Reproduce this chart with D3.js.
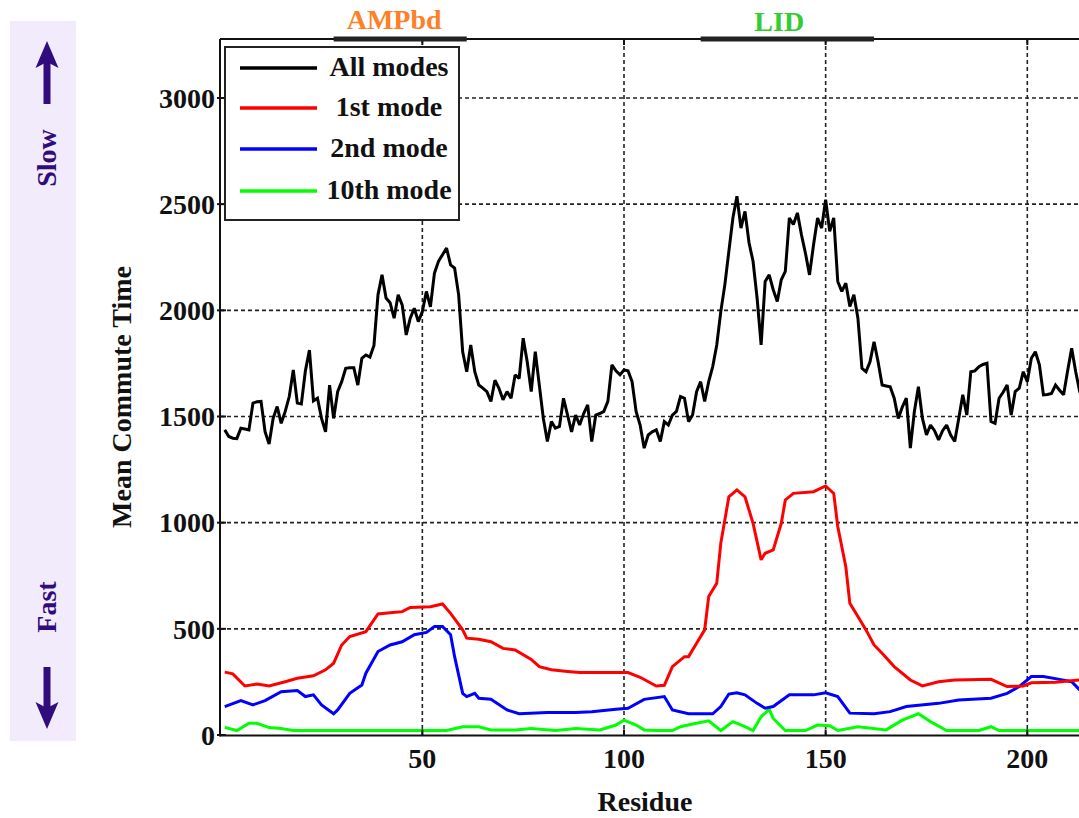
<!DOCTYPE html>
<html>
<head>
<meta charset="utf-8">
<script src="https://cdn.jsdelivr.net/npm/d3@7"></script>
<style>
  html, body { margin: 0; padding: 0; background: #fff; overflow: hidden; }
  text { font-family: "Liberation Serif", "Times New Roman", serif; font-weight: bold; }
</style>
</head>
<body>
<svg id="chart" width="1079" height="818"></svg>
<script>
// Mean commute time per residue (residues 1..214)
const residues = d3.range(1, 215);
const allModes = [
  1437,1406,1398,1396,1445,1441,1437,1563,1569,1571,
  1428,1370,1491,1547,1468,1524,1594,1719,1563,1559,
  1715,1813,1574,1586,1491,1428,1648,1491,1617,1664,
  1727,1730,1730,1648,1774,1790,1780,1835,2073,2167,
  2058,2036,1963,2073,2026,1884,1963,2010,1947,1994,
  2089,2016,2175,2231,2262,2293,2214,2199,2073,1805,
  1711,1837,1711,1648,1634,1617,1571,1671,1633,1579,
  1617,1586,1696,1679,1869,1758,1617,1805,1648,1491,
  1382,1476,1445,1453,1586,1507,1428,1507,1460,1514,
  1555,1382,1507,1514,1524,1571,1743,1715,1696,1719,
  1715,1664,1524,1460,1351,1413,1428,1437,1382,1476,
  1460,1507,1524,1594,1586,1476,1507,1617,1664,1571,
  1664,1735,1837,1994,2120,2278,2435,2537,2387,2466,
  2318,2231,2058,1837,2136,2167,2097,2042,2144,2183,
  2435,2404,2459,2356,2268,2167,2309,2435,2387,2521,
  2372,2435,2136,2089,2128,2018,2073,1963,1727,1711,
  1758,1852,1758,1648,1644,1640,1586,1491,1544,1586,
  1351,1524,1640,1491,1413,1460,1433,1390,1433,1460,
  1413,1382,1491,1602,1507,1711,1715,1735,1745,1751,
  1476,1468,1586,1614,1648,1507,1617,1633,1711,1664,
  1774,1805,1743,1602,1604,1609,1648,1624,1602,1715,
  1821,1711,1617,1602
];

// 1st mode
const mode1Res = [1,3,6,9,12,16,19,23,26,28,30,32,36,39,42,45,47,52,55,57,60,61,64,67,70,73,77,79,82,86,89,94,101,104,108,110,112,115,116,118,120,121,123,124,126,128,130,132,134,135,137,139,140,142,147,150,152,153,155,156,158,160,162,164,167,171,174,178,182,191,195,199,201,207,213];
const mode1Val = [296,288,231,240,231,251,267,279,307,338,424,464,487,570,576,581,601,604,617,573,495,456,451,439,408,400,356,322,307,299,294,294,294,272,231,234,322,369,369,432,495,652,715,903,1122,1154,1122,997,825,856,872,997,1107,1138,1146,1173,1138,982,793,620,558,495,424,385,322,259,231,251,259,262,228,231,246,249,259];

// 2nd mode
const mode2Res = [1,5,8,11,15,19,21,23,25,28,29,32,35,36,39,42,45,48,51,53,55,57,58,60,61,63,64,67,71,74,81,88,92,98,101,105,110,112,116,122,124,126,128,130,133,135,137,141,147,150,153,156,162,166,170,178,183,191,195,198,201,204,208,211,213];
const mode2Val = [134,162,142,162,204,209,181,189,142,100,118,196,235,291,393,424,439,472,483,511,511,472,369,196,181,196,173,168,118,100,106,106,110,121,126,168,181,118,100,100,134,193,199,189,149,126,134,189,189,199,181,103,100,110,134,149,165,173,196,228,275,275,262,251,212];

// 10th mode
const mode10Res = [1,4,7,9,12,15,18,56,60,64,67,73,77,83,88,94,98,100,103,105,108,112,114,117,121,124,127,130,132,134,136,137,140,145,148,151,153,158,165,169,173,176,180,188,191,193,214];
const mode10Val = [36,21,55,55,35,31,21,21,39,39,24,24,31,21,31,24,47,70,47,24,21,21,39,52,67,21,63,39,21,86,121,78,21,21,47,44,21,39,24,70,100,63,21,21,39,21,21];

const seriesNames = ["All modes", "1st mode", "2nd mode", "10th mode"];
const seriesColors = ["#000000", "#ff0000", "#0000ff", "#00ff00"];

const xTicks = [50, 100, 150, 200];
const yTicks = [0, 500, 1000, 1500, 2000, 2500, 3000];

// Protein domains marked above the plot
const domainNames = ["AMPbd", "LID"];
const domainStart = [28, 119];
const domainEnd = [61, 162];
const domainLabelAt = [43, 138.5];
const domainColors = ["#ff7f27", "#33cc33"];

const svg = d3.select("#chart");
const W = 1079, H = 818;

const plotLeft = 220, plotTop = 39, plotBottom = 735.5;

const x = d3.scaleLinear().domain([0, 200]).range([220.7, 1027.3]);
const y = d3.scaleLinear().domain([0, 3000]).range([735, 98]);

// Side panel: slow / fast indicator
const sideColor = "#310c7c";
svg.append("rect").attr("x", 10).attr("y", 21).attr("width", 66).attr("height", 720).attr("fill", "#f1ebfc");
svg.append("rect").attr("x", 43.5).attr("y", 60).attr("width", 7).attr("height", 44).attr("fill", sideColor);
svg.append("path").attr("d", "M47,41 L58.5,68 L47,62 L35.5,68 Z").attr("fill", sideColor);
svg.append("rect").attr("x", 43.5).attr("y", 667).attr("width", 7).attr("height", 45).attr("fill", sideColor);
svg.append("path").attr("d", "M47,729 L58.5,702 L47,708 L35.5,702 Z").attr("fill", sideColor);
svg.append("text").attr("transform", "translate(56,158) rotate(-90)")
  .attr("text-anchor", "middle").attr("font-size", 28).attr("fill", sideColor).text("Slow");
svg.append("text").attr("transform", "translate(56,607) rotate(-90)")
  .attr("text-anchor", "middle").attr("font-size", 28).attr("fill", sideColor).text("Fast");

// Grid
const grid = svg.append("g").attr("stroke", "#222").attr("stroke-width", 1.6).attr("stroke-dasharray", "4,3");
grid.selectAll("line.gx").data(xTicks).join("line")
  .attr("x1", d => x(d)).attr("x2", d => x(d)).attr("y1", plotTop).attr("y2", plotBottom);
grid.selectAll("line.gy").data(yTicks.filter(d => d > 0)).join("line")
  .attr("x1", plotLeft).attr("x2", W).attr("y1", d => y(d)).attr("y2", d => y(d));

// Series lines
const line = d3.line().x(d => x(d[0])).y(d => y(d[1]));
const seriesData = [
  d3.zip(residues, allModes),
  d3.zip(mode1Res, mode1Val),
  d3.zip(mode2Res, mode2Val),
  d3.zip(mode10Res, mode10Val)
];
// draw the colored modes first, then the overall curve
[3, 2, 1, 0].forEach(i => {
  svg.append("path").datum(seriesData[i])
    .attr("fill", "none").attr("stroke", seriesColors[i])
    .attr("stroke-width", 3).attr("stroke-linejoin", "miter").attr("stroke-miterlimit", 2)
    .attr("d", line);
});

// Axes frame
const axisG = svg.append("g").attr("stroke", "#111").attr("stroke-width", 2);
axisG.append("line").attr("x1", plotLeft).attr("x2", plotLeft).attr("y1", plotTop).attr("y2", plotBottom + 1);
axisG.append("line").attr("x1", plotLeft).attr("x2", W).attr("y1", plotBottom).attr("y2", plotBottom);
axisG.append("line").attr("x1", plotLeft).attr("x2", W).attr("y1", plotTop).attr("y2", plotTop);
// tick marks
axisG.selectAll("line.tt").data(xTicks).join("line")
  .attr("x1", d => x(d)).attr("x2", d => x(d)).attr("y1", plotTop).attr("y2", plotTop + 6);
axisG.selectAll("line.tb").data(xTicks).join("line")
  .attr("x1", d => x(d)).attr("x2", d => x(d)).attr("y1", plotBottom).attr("y2", plotBottom - 6);
axisG.selectAll("line.tl").data(yTicks).join("line")
  .attr("x1", plotLeft - 3).attr("x2", plotLeft + 6).attr("y1", d => y(d)).attr("y2", d => y(d));

// Tick labels
svg.append("g").selectAll("text").data(yTicks).join("text")
  .attr("x", 215).attr("y", d => y(d)).attr("dy", "0.35em")
  .attr("text-anchor", "end").attr("font-size", 28).attr("fill", "#111")
  .text(d => d);
svg.append("g").selectAll("text").data(xTicks).join("text")
  .attr("x", d => x(d)).attr("y", 768)
  .attr("text-anchor", "middle").attr("font-size", 28).attr("fill", "#111")
  .text(d => d);

// Axis titles
svg.append("text").attr("x", 645).attr("y", 811).attr("text-anchor", "middle")
  .attr("font-size", 28).attr("fill", "#111").text("Residue");
svg.append("text").attr("transform", "translate(131,397) rotate(-90)")
  .attr("text-anchor", "middle").attr("font-size", 28).attr("fill", "#111").text("Mean Commute Time");

// Domain bars and labels
domainNames.forEach((name, i) => {
  svg.append("line")
    .attr("x1", x(domainStart[i])).attr("x2", x(domainEnd[i]))
    .attr("y1", plotTop).attr("y2", plotTop)
    .attr("stroke", "#222").attr("stroke-width", 5);
  svg.append("text").attr("x", x(domainLabelAt[i])).attr("y", i === 0 ? 29 : 31)
    .attr("text-anchor", "middle").attr("font-size", 28).attr("fill", domainColors[i]).text(name);
});

// Legend
const lg = svg.append("g");
lg.append("rect").attr("x", 225).attr("y", 47).attr("width", 234).attr("height", 173)
  .attr("fill", "#fff").attr("stroke", "#222").attr("stroke-width", 2);
const rowY = [68, 108, 149, 191];
seriesNames.forEach((name, i) => {
  lg.append("line").attr("x1", 240).attr("x2", 317).attr("y1", rowY[i]).attr("y2", rowY[i])
    .attr("stroke", seriesColors[i]).attr("stroke-width", 3.5);
  lg.append("text").attr("x", 389).attr("y", rowY[i] + 8).attr("text-anchor", "middle")
    .attr("font-size", 28).attr("fill", "#111").text(name);
});
</script>
</body>
</html>
